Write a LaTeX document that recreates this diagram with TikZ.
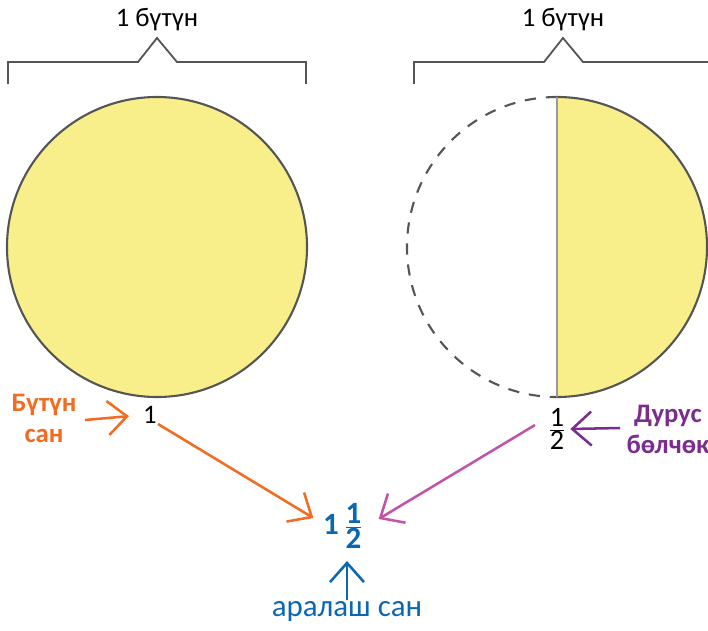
\documentclass[tikz,border=0pt]{standalone}
\usepackage{fontspec}
\setmainfont{Carlito}
\usetikzlibrary{arrows.meta}
\definecolor{piefill}{HTML}{F8EE8A}
\definecolor{pieline}{HTML}{555555}
\definecolor{wholeclr}{HTML}{F26B21}
\definecolor{fracclr}{HTML}{7B2D8E}
\definecolor{linkclr}{HTML}{C154AA}
\definecolor{mixclr}{HTML}{0B67B2}
\newcommand{\stackfr}[2]{$\frac{\hbox{#1}}{\hbox{#2}}$}
\tikzset{
  brace/.style={pieline,line width=1.3pt},
  pointer/.style={-{Straight Barb[length=4.8mm,width=8.5mm]},line width=1.8pt},
  tag/.style={font=\bfseries\fontsize{19}{22}\selectfont,align=center,inner sep=0pt}
}
\begin{document}
\begin{tikzpicture}[x=0.025cm,y=-0.025cm,font=\fontsize{19}{22}\selectfont]
\useasboundingbox (0,0) rectangle (708,630);
% braces over the two wholes
\draw[brace] (8,84)--(8,62)--(138,62)--(157,38)--(177,62)--(306,62)--(306,84);
\draw[brace] (414,84)--(414,62)--(544,62)--(563,38)--(583,62)--(708,62);
\node (topL) at (157,20) {1 бүтүн};
\node (topR) at (563,20) {1 бүтүн};
% whole circle and half circle
\draw[fill=piefill,draw=pieline,line width=1.5pt] (157,247) circle (150);
\draw[fill=piefill,draw=pieline,line width=1.5pt] (557,97) arc (-90:90:150);
\draw[pieline,line width=1.5pt,dash pattern=on 8pt off 7pt] (557,97) arc (-90:-270:150);
\draw[gray!80,line width=1.5pt] (557,97)--(557,397);
% numbers
\node[inner sep=1pt] (one) at (150,415) {1};
\node[inner sep=1pt,font=\fontsize{20}{24}\selectfont] (half) at (557,429) {\stackfr{1}{2}};
\node[mixclr,font=\bfseries\fontsize{22}{26}\selectfont,inner sep=1pt] (mixed) at (343,526)
  {1\,\stackfr{1}{2}};
% labels
\node[tag,wholeclr] (wholetag) at (44,418) {Бүтүн\\сан};
\node[tag,fracclr] (fractag) at (668,429) {Дурус\\бөлчөк};
\node[mixclr,inner sep=0pt,font=\fontsize{22}{26}\selectfont] (mixtag) at (347,611) {аралаш сан};
% arrows
\draw[pointer,wholeclr,shorten >=9pt] (85,420)--(one.west);
\draw[pointer,wholeclr] (158,424)--([shift={(-8,-8)}]mixed.west);
\draw[pointer,fracclr] (620,428)--([xshift=2]half.east);
\draw[pointer,linkclr] (535,425)--([shift={(14,-7)}]mixed.east);
\draw[pointer,mixclr] (347,600)--(347,561);
\end{tikzpicture}
\end{document}
